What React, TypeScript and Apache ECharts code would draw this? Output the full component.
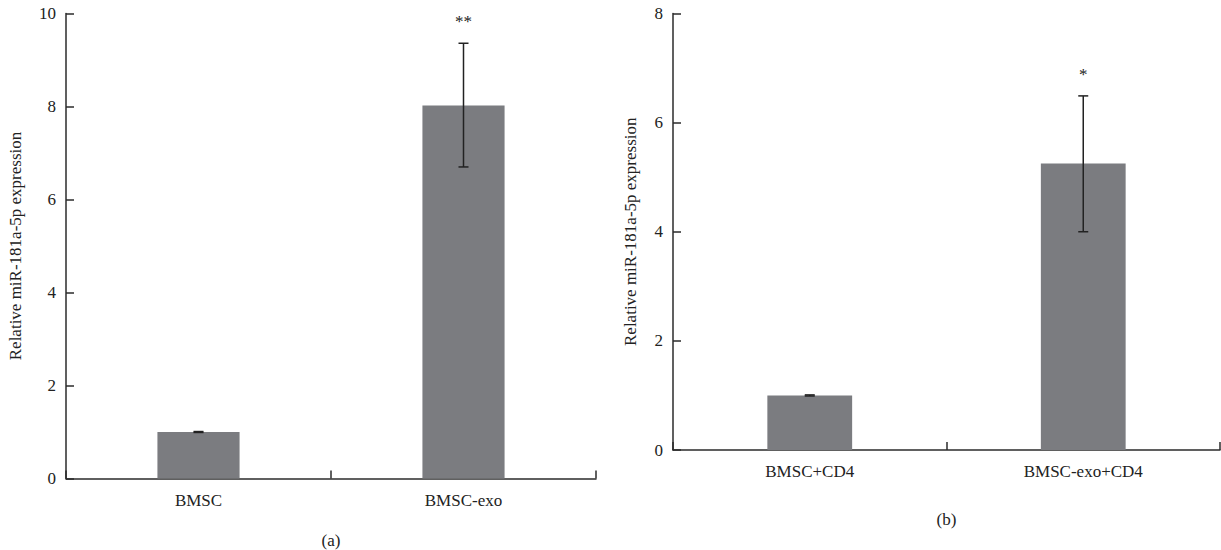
import React, { useEffect, useRef } from "react";
import * as echarts from "echarts";

const catsA = ["BMSC", "BMSC-exo"];
const meanA = [1.0, 8.02];
const lowA = [0.99, 6.7];
const highA = [1.01, 9.36];
const sigA = ["", "**"];

const catsB = ["BMSC+CD4", "BMSC-exo+CD4"];
const meanB = [1.0, 5.25];
const lowB = [0.99, 4.0];
const highB = [1.01, 6.49];
const sigB = ["", "*"];

const yTicksA = { min: 0, max: 10, interval: 2 };
const yTicksB = { min: 0, max: 8, interval: 2 };

const FONT = "Liberation Serif";
const AXIS = "#2b2b2b";
const BAR = "#7b7c80";

export default function App() {
  const ref = useRef<HTMLDivElement>(null);
  useEffect(() => {
    if (!ref.current) return;
    const chart = echarts.init(ref.current, undefined, { renderer: "svg" });

    const errItem = (sig: string[]) => (params: any, api: any) => {
      const x = api.value(0);
      const lo = api.coord([x, api.value(1)]);
      const hi = api.coord([x, api.value(2)]);
      const cap = 5;
      const st = { stroke: "#222", lineWidth: 1.5 };
      const children: any[] = [
        { type: "line", shape: { x1: lo[0], y1: lo[1], x2: hi[0], y2: hi[1] }, style: st },
        { type: "line", shape: { x1: lo[0] - cap, y1: lo[1], x2: lo[0] + cap, y2: lo[1] }, style: st },
        { type: "line", shape: { x1: hi[0] - cap, y1: hi[1], x2: hi[0] + cap, y2: hi[1] }, style: st },
      ];
      const s = sig[params.dataIndex];
      if (s) {
        children.push({
          type: "text",
          style: {
            text: s,
            x: hi[0],
            y: hi[1] - 13,
            align: "center",
            verticalAlign: "bottom",
            fontFamily: FONT,
            fontSize: 17,
            fill: "#222",
          },
        });
      }
      return { type: "group", children };
    };

    const xAxisBase = (cats: string[], gridIndex: number, name: string, gap: number) => ({
      type: "category",
      gridIndex,
      data: cats,
      boundaryGap: true,
      name,
      nameLocation: "middle",
      nameGap: gap,
      nameTextStyle: { fontFamily: FONT, fontSize: 17, color: "#222" },
      axisLine: { lineStyle: { color: AXIS, width: 1.5 } },
      axisTick: { show: true, inside: true, length: 8, lineStyle: { color: AXIS, width: 1.5 } },
      axisLabel: { fontFamily: FONT, fontSize: 17, color: "#222", margin: 13 },
      splitLine: { show: false },
    });

    const yAxisBase = (t: any, gridIndex: number, gap: number) => ({
      type: "value",
      gridIndex,
      min: t.min,
      max: t.max,
      interval: t.interval,
      name: "Relative miR-181a-5p expression",
      nameLocation: "middle",
      nameGap: gap,
      nameTextStyle: { fontFamily: FONT, fontSize: 17, color: "#222" },
      axisLine: { show: true, lineStyle: { color: AXIS, width: 1.5 } },
      axisTick: { show: true, inside: true, length: 8, lineStyle: { color: AXIS, width: 1.5 } },
      axisLabel: { fontFamily: FONT, fontSize: 17, color: "#222", margin: 10 },
      splitLine: { show: false },
    });

    chart.setOption({
      animation: false,
      grid: [
        { left: 66, top: 13.5, width: 530, height: 465, outerBoundsMode: "none", containLabel: false },
        { left: 673, top: 13.5, width: 547, height: 436.5, outerBoundsMode: "none", containLabel: false },
      ],
      xAxis: [xAxisBase(catsA, 0, "(a)", 53), xAxisBase(catsB, 1, "(b)", 61)],
      yAxis: [yAxisBase(yTicksA, 0, 42), yAxisBase(yTicksB, 1, 34)],
      series: [
        {
          type: "bar",
          xAxisIndex: 0,
          yAxisIndex: 0,
          data: meanA,
          barWidth: "31%",
          itemStyle: { color: BAR },
        },
        {
          type: "custom",
          xAxisIndex: 0,
          yAxisIndex: 0,
          data: catsA.map((_, i) => [i, lowA[i], highA[i]]),
          renderItem: errItem(sigA),
          z: 5,
        },
        {
          type: "bar",
          xAxisIndex: 1,
          yAxisIndex: 1,
          data: meanB,
          barWidth: "31%",
          itemStyle: { color: BAR },
        },
        {
          type: "custom",
          xAxisIndex: 1,
          yAxisIndex: 1,
          data: catsB.map((_, i) => [i, lowB[i], highB[i]]),
          renderItem: errItem(sigB),
          z: 5,
        },
      ],
    });
    return () => chart.dispose();
  }, []);
  return (
    <div
      ref={ref}
      style={{ position: "fixed", left: 0, top: 0, width: 1221, height: 550, background: "#fff" }}
    />
  );
}
